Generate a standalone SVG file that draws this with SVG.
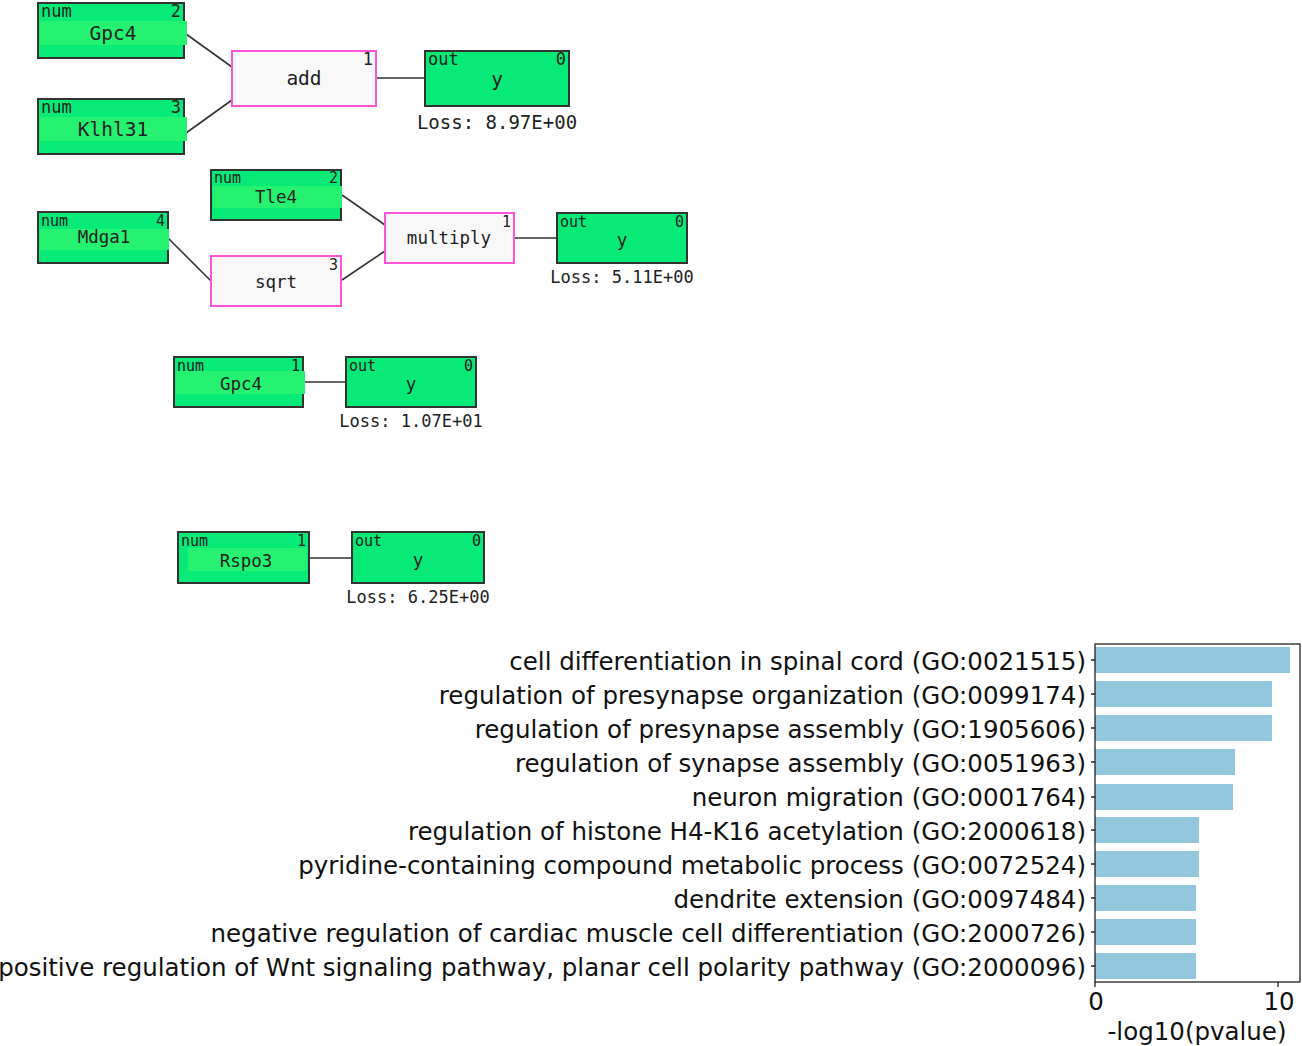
<svg xmlns="http://www.w3.org/2000/svg" width="1302" height="1046" viewBox="0 0 1302 1046">
<style>
.n{fill:#07ea78;stroke:#333;stroke-width:2}
.band{fill:#25f270}
.op{fill:#f8f8f8;stroke:#ff55dd;stroke-width:2}
text{font-family:"DejaVu Sans Mono",monospace;fill:#222}
.lbl{font-size:17.5px;text-anchor:middle}
.cl{font-size:15px}
.cr{font-size:15px;text-anchor:end}
.loss{font-size:17px;text-anchor:middle}
#g1 .lbl{font-size:19.5px}
#g1 .cl,#g1 .cr{font-size:17px}
#g1 .loss{font-size:19px}
.e{stroke:#333;stroke-width:1.6;fill:none}
.bar{fill:#92c6dd}
#chart text{font-family:"DejaVu Sans",sans-serif;font-size:24.5px;fill:#111}
.yl{text-anchor:end}
.xl{text-anchor:middle}
.ax{stroke:#222;stroke-width:1.3;fill:none}
</style>
<rect width="1302" height="1046" fill="#fff"/>
<g id="connectors">
<line class="e" x1="186" y1="34" x2="232" y2="67"/>
<line class="e" x1="186" y1="133" x2="232" y2="100"/>
<line class="e" x1="377" y1="78" x2="424" y2="78"/>
<line class="e" x1="342" y1="195" x2="385" y2="225"/>
<line class="e" x1="342" y1="280" x2="385" y2="251"/>
<line class="e" x1="168" y1="238" x2="211" y2="281"/>
<line class="e" x1="515" y1="238" x2="557" y2="238"/>
<line class="e" x1="305" y1="382" x2="346" y2="382"/>
<line class="e" x1="309" y1="558" x2="352" y2="558"/>
</g>
<g id="g1">
<g id="g1-gpc4"><rect class="n" x="38" y="3" width="146" height="55"/><rect class="band" x="40" y="21" width="147" height="24"/><text class="cl" x="41" y="17">num</text><text class="cr" x="181" y="17">2</text><text class="lbl" x="113" y="40">Gpc4</text></g>
<g id="g1-klhl31"><rect class="n" x="38" y="99" width="146" height="55"/><rect class="band" x="40" y="117" width="147" height="24"/><text class="cl" x="41" y="113">num</text><text class="cr" x="181" y="113">3</text><text class="lbl" x="113" y="136">Klhl31</text></g>
<g id="g1-add"><rect class="op" x="232" y="51" width="144" height="55"/><text class="cr" x="373" y="65">1</text><text class="lbl" x="304" y="85">add</text></g>
<g id="g1-y"><rect class="n" x="425" y="51" width="144" height="55"/><text class="cl" x="428" y="65">out</text><text class="cr" x="566" y="65">0</text><text class="lbl" x="497" y="86">y</text><text class="loss" x="497" y="129">Loss: 8.97E+00</text></g>
</g>
<g id="g2">
<g id="g2-tle4"><rect class="n" x="211" y="170" width="130" height="50"/><rect class="band" x="213" y="186" width="129" height="22"/><text class="cl" x="214" y="183">num</text><text class="cr" x="338" y="183">2</text><text class="lbl" x="276" y="203">Tle4</text></g>
<g id="g2-mdga1"><rect class="n" x="38" y="212" width="130" height="51"/><rect class="band" x="40" y="229" width="129" height="21"/><text class="cl" x="41" y="226">num</text><text class="cr" x="165" y="226">4</text><text class="lbl" x="104" y="243">Mdga1</text></g>
<g id="g2-sqrt"><rect class="op" x="211" y="256" width="130" height="50"/><text class="cr" x="338" y="270">3</text><text class="lbl" x="276" y="288">sqrt</text></g>
<g id="g2-multiply"><rect class="op" x="385" y="213" width="129" height="50"/><text class="cr" x="511" y="227">1</text><text class="lbl" x="449" y="244">multiply</text></g>
<g id="g2-y"><rect class="n" x="557" y="213" width="130" height="50"/><text class="cl" x="560" y="227">out</text><text class="cr" x="684" y="227">0</text><text class="lbl" x="622" y="246">y</text><text class="loss" x="622" y="283">Loss: 5.11E+00</text></g>
</g>
<g id="g3">
<g id="g3-gpc4"><rect class="n" x="174" y="357" width="129" height="50"/><rect class="band" x="176" y="371" width="129" height="23"/><text class="cl" x="177" y="371">num</text><text class="cr" x="300" y="371">1</text><text class="lbl" x="241" y="390">Gpc4</text></g>
<g id="g3-y"><rect class="n" x="346" y="357" width="130" height="50"/><text class="cl" x="349" y="371">out</text><text class="cr" x="473" y="371">0</text><text class="lbl" x="411" y="390">y</text><text class="loss" x="411" y="427">Loss: 1.07E+01</text></g>
</g>
<g id="g4">
<g id="g4-rspo3"><rect class="n" x="178" y="532" width="131" height="51"/><rect class="band" x="188" y="548" width="119" height="23"/><text class="cl" x="181" y="546">num</text><text class="cr" x="306" y="546">1</text><text class="lbl" x="246" y="567">Rspo3</text></g>
<g id="g4-y"><rect class="n" x="352" y="532" width="132" height="51"/><text class="cl" x="355" y="546">out</text><text class="cr" x="481" y="546">0</text><text class="lbl" x="418" y="566">y</text><text class="loss" x="418" y="603">Loss: 6.25E+00</text></g>
</g>
<g id="chart">
<rect class="bar" x="1095" y="647" width="195" height="26"/>
<rect class="bar" x="1095" y="681" width="177" height="26"/>
<rect class="bar" x="1095" y="715" width="177" height="26"/>
<rect class="bar" x="1095" y="749" width="140" height="26"/>
<rect class="bar" x="1095" y="784" width="138" height="26"/>
<rect class="bar" x="1095" y="817" width="104" height="26"/>
<rect class="bar" x="1095" y="851" width="104" height="26"/>
<rect class="bar" x="1095" y="885" width="101" height="26"/>
<rect class="bar" x="1095" y="919" width="101" height="26"/>
<rect class="bar" x="1095" y="953" width="101" height="26"/>
<rect class="ax" x="1095" y="644" width="205" height="338"/>
<path class="ax" d="M1091 660H1095M1091 694H1095M1091 728H1095M1091 762H1095M1091 797H1095M1091 830H1095M1091 864H1095M1091 898H1095M1091 932H1095M1091 966H1095M1095 982V987M1278 982V987"/>
<text class="yl" x="1086" y="670">cell differentiation in spinal cord (GO:0021515)</text>
<text class="yl" x="1086" y="704">regulation of presynapse organization (GO:0099174)</text>
<text class="yl" x="1086" y="738">regulation of presynapse assembly (GO:1905606)</text>
<text class="yl" x="1086" y="772">regulation of synapse assembly (GO:0051963)</text>
<text class="yl" x="1086" y="806">neuron migration (GO:0001764)</text>
<text class="yl" x="1086" y="840">regulation of histone H4-K16 acetylation (GO:2000618)</text>
<text class="yl" x="1086" y="874">pyridine-containing compound metabolic process (GO:0072524)</text>
<text class="yl" x="1086" y="908">dendrite extension (GO:0097484)</text>
<text class="yl" x="1086" y="942">negative regulation of cardiac muscle cell differentiation (GO:2000726)</text>
<text class="yl" x="1086" y="976">positive regulation of Wnt signaling pathway, planar cell polarity pathway (GO:2000096)</text>
<text class="xl" x="1096" y="1010">0</text>
<text class="xl" x="1279" y="1010">10</text>
<text class="xl" x="1197" y="1040">-log10(pvalue)</text>
</g>
</svg>
